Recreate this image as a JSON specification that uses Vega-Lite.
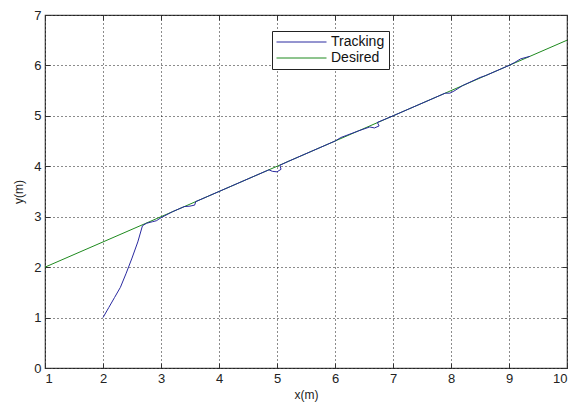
{
  "$schema": "https://vega.github.io/schema/vega-lite/v6.json",
  "width": 522,
  "height": 353,
  "autosize": {"type": "none"},
  "padding": {"left": 45, "top": 15, "right": 5, "bottom": 40},
  "background": "white",
  "config": {
    "font": "Liberation Sans",
    "view": {"stroke": "#444444", "strokeWidth": 1.2},
    "axis": {
      "labelFont": "Liberation Sans",
      "titleFont": "Liberation Sans",
      "labelFontSize": 13,
      "titleFontSize": 12,
      "labelColor": "#222222",
      "titleColor": "#222222",
      "titleFontWeight": "normal",
      "domain": false,
      "tickColor": "#333333",
      "gridColor": "#000000",
      "gridDash": [1, 3],
      "gridOpacity": 0.9
    }
  },
  "datasets": {
    "lines": [
      {"series": "Desired", "i": 0, "x": 1, "y": 2},
      {"series": "Desired", "i": 1, "x": 10, "y": 6.5},
      {"series": "Tracking", "i": 0, "x": 2.0, "y": 1.0},
      {"series": "Tracking", "i": 1, "x": 2.1, "y": 1.2},
      {"series": "Tracking", "i": 2, "x": 2.2, "y": 1.4},
      {"series": "Tracking", "i": 3, "x": 2.3, "y": 1.6},
      {"series": "Tracking", "i": 4, "x": 2.4, "y": 1.88},
      {"series": "Tracking", "i": 5, "x": 2.5, "y": 2.18},
      {"series": "Tracking", "i": 6, "x": 2.6, "y": 2.5},
      {"series": "Tracking", "i": 7, "x": 2.68, "y": 2.82},
      {"series": "Tracking", "i": 8, "x": 2.75, "y": 2.87},
      {"series": "Tracking", "i": 9, "x": 2.85, "y": 2.9},
      {"series": "Tracking", "i": 10, "x": 2.92, "y": 2.92},
      {"series": "Tracking", "i": 11, "x": 3.0, "y": 2.98},
      {"series": "Tracking", "i": 12, "x": 3.2, "y": 3.1},
      {"series": "Tracking", "i": 13, "x": 3.4, "y": 3.2},
      {"series": "Tracking", "i": 14, "x": 3.5, "y": 3.21},
      {"series": "Tracking", "i": 15, "x": 3.58, "y": 3.23},
      {"series": "Tracking", "i": 16, "x": 3.6, "y": 3.3},
      {"series": "Tracking", "i": 17, "x": 3.8, "y": 3.4},
      {"series": "Tracking", "i": 18, "x": 4.2, "y": 3.6},
      {"series": "Tracking", "i": 19, "x": 4.6, "y": 3.8},
      {"series": "Tracking", "i": 20, "x": 4.86, "y": 3.93},
      {"series": "Tracking", "i": 21, "x": 4.92, "y": 3.9},
      {"series": "Tracking", "i": 22, "x": 5.0, "y": 3.89},
      {"series": "Tracking", "i": 23, "x": 5.07, "y": 3.94},
      {"series": "Tracking", "i": 24, "x": 5.05, "y": 4.02},
      {"series": "Tracking", "i": 25, "x": 5.2, "y": 4.1},
      {"series": "Tracking", "i": 26, "x": 5.6, "y": 4.3},
      {"series": "Tracking", "i": 27, "x": 6.0, "y": 4.5},
      {"series": "Tracking", "i": 28, "x": 6.1, "y": 4.57},
      {"series": "Tracking", "i": 29, "x": 6.4, "y": 4.7},
      {"series": "Tracking", "i": 30, "x": 6.6, "y": 4.78},
      {"series": "Tracking", "i": 31, "x": 6.68, "y": 4.76},
      {"series": "Tracking", "i": 32, "x": 6.76, "y": 4.8},
      {"series": "Tracking", "i": 33, "x": 6.73, "y": 4.87},
      {"series": "Tracking", "i": 34, "x": 7.0, "y": 5.0},
      {"series": "Tracking", "i": 35, "x": 7.5, "y": 5.25},
      {"series": "Tracking", "i": 36, "x": 7.9, "y": 5.45},
      {"series": "Tracking", "i": 37, "x": 7.98, "y": 5.45},
      {"series": "Tracking", "i": 38, "x": 8.05, "y": 5.49},
      {"series": "Tracking", "i": 39, "x": 8.2, "y": 5.6},
      {"series": "Tracking", "i": 40, "x": 8.5, "y": 5.76},
      {"series": "Tracking", "i": 41, "x": 8.6, "y": 5.8},
      {"series": "Tracking", "i": 42, "x": 9.0, "y": 6.0},
      {"series": "Tracking", "i": 43, "x": 9.1, "y": 6.06},
      {"series": "Tracking", "i": 44, "x": 9.2, "y": 6.13},
      {"series": "Tracking", "i": 45, "x": 9.36, "y": 6.18}
    ]
  },
  "layer": [
    {
      "data": {"name": "lines"},
      "mark": {"type": "line", "strokeWidth": 1, "clip": true},
      "encoding": {
        "x": {
          "field": "x", "type": "quantitative",
          "scale": {"domain": [1, 10], "nice": false, "zero": false},
          "axis": {"title": "x(m)", "values": [1,2,3,4,5,6,7,8,9,10], "grid": true, "tickSize": -5, "labelPadding": 9, "titlePadding": 4}
        },
        "y": {
          "field": "y", "type": "quantitative",
          "scale": {"domain": [0, 7], "nice": false, "zero": false},
          "axis": {"title": "y(m)", "values": [0,1,2,3,4,5,6,7], "grid": true, "tickSize": -5, "labelPadding": 9, "titlePadding": 8}
        },
        "color": {
          "field": "series", "type": "nominal",
          "scale": {"domain": ["Tracking", "Desired"], "range": ["#2a2aa0", "#1e8a1e"]},
          "legend": {
            "title": null,
            "orient": "none",
            "legendX": 227,
            "legendY": 16,
            "symbolType": "stroke",
            "symbolSize": 2500,
            "clipHeight": 14,
            "symbolStrokeWidth": 1,
            "labelFontSize": 14,
            "labelColor": "#111111",
            "strokeColor": "#222222",
            "fillColor": "white",
            "padding": 4,
            "rowPadding": 2,
            "labelOffset": 4
          }
        },
        "order": {"field": "i", "type": "quantitative"}
      }
    },
    {
      "data": {"name": "lines"},
      "mark": {"type": "line", "opacity": 0},
      "encoding": {
        "x": {"field": "x", "type": "quantitative", "axis": {"title": null, "labels": false, "values": [1,2,3,4,5,6,7,8,9,10], "grid": false, "tickSize": -5}},
        "y": {"field": "y", "type": "quantitative", "axis": {"title": null, "labels": false, "values": [0,1,2,3,4,5,6,7], "grid": false, "tickSize": -5}}
      }
    }
  ],
  "resolve": {"axis": {"x": "independent", "y": "independent"}}
}
